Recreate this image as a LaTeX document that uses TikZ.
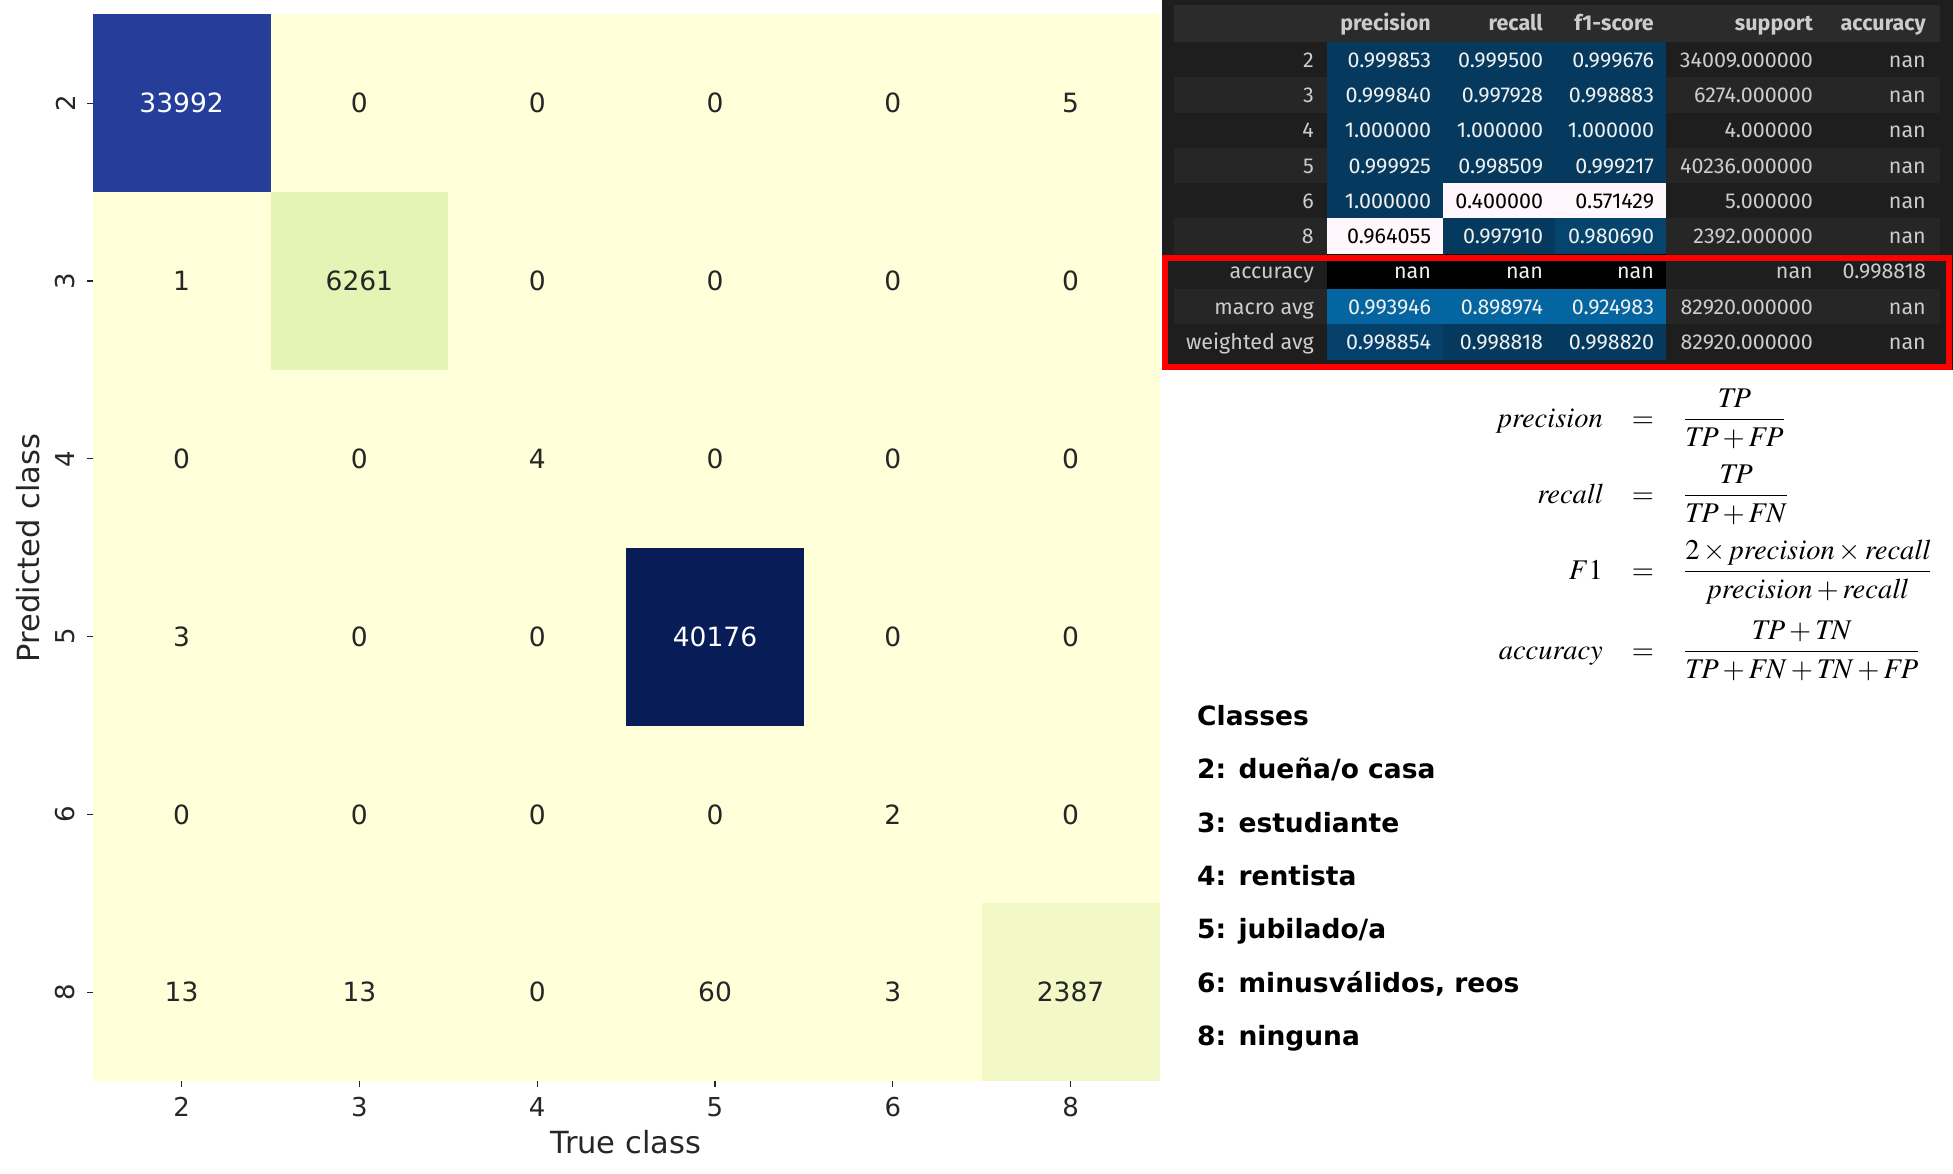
\documentclass[tikz,border=0pt]{standalone}
\usepackage{mathptmx}
\usepackage[no-math]{fontspec}
\setmainfont{DejaVu Sans}
\newfontfamily\tablefont{Fira Sans}
\definecolor{hmlow}{HTML}{FFFFD9}
\definecolor{hmmid}{HTML}{E4F4B4}
\definecolor{hmpale}{HTML}{F3F9C6}
\definecolor{hmblue}{HTML}{243E99}
\definecolor{hmnavy}{HTML}{081D58}
\definecolor{hmtext}{HTML}{262626}
\definecolor{tblbg}{HTML}{1E1E1E}
\definecolor{tblstripe}{HTML}{262626}
\definecolor{tblhead}{HTML}{2B2B2B}
\definecolor{tbltext}{HTML}{CCCCCC}
\definecolor{celltext}{HTML}{F0F0F0}
\definecolor{pubudark}{HTML}{053A5E}
\definecolor{pubumid}{HTML}{05446C}
\definecolor{pubuwavg}{HTML}{04406A}
\definecolor{pubulight}{HTML}{0565A0}
\definecolor{pubuwhite}{HTML}{FFF7FB}
\definecolor{boxred}{HTML}{FF0000}
\tikzset{
    annot/.style={
        font=\fontsize{26.5}{31}\selectfont, inner sep=0pt, anchor=center
    },
    ticklabel/.style={
        font=\fontsize{26}{31}\selectfont, text=hmtext, inner sep=0pt
    },
    tick/.style={
        draw=hmtext, line width=1.3pt
    },
    axislabel/.style={
        font=\fontsize{30.5}{36}\selectfont, text=hmtext, inner sep=0pt
    },
    tbltxt/.style={
        font=\tablefont\fontsize{21.5}{25}\selectfont, text=tbltext, anchor=base east, inner sep=0pt
    },
    tblhd/.style={
        font=\tablefont\bfseries\fontsize{21.5}{25}\selectfont, text=tbltext, anchor=base east, inner sep=0pt
    },
    gcell/.style={
        font=\tablefont\fontsize{21.5}{25}\selectfont, anchor=west, outer sep=0pt,
        minimum height=35.3pt, inner ysep=0pt, inner xsep=12pt,
        text width=#1, align=right, text height=15pt, text depth=0pt
    },
    cA/.style={fill=pubudark, text=celltext},
    cM/.style={fill=pubumid, text=celltext},
    cV/.style={fill=pubuwavg, text=celltext},
    cL/.style={fill=pubulight, text=celltext},
    cW/.style={fill=pubuwhite, text=black},
    cK/.style={fill=black, text=celltext},
    formula/.style={
        font=\fontsize{28.5}{34}\selectfont, inner sep=0pt
    },
    classtext/.style={
        font=\bfseries\fontsize{26.5}{31}\selectfont, anchor=base west, inner sep=0pt
    }
}

\begin{document}
\begin{tikzpicture}[x=1pt, y=-1pt]
    \useasboundingbox (0,0) rectangle (1953,1174);

    % ======================================
    % CONFUSION MATRIX
    % ======================================
    \fill[hmlow] (92.7,14.3) rectangle (1159.5,1081);
    \fill[hmblue] (92.7,14.3) rectangle ++(177.8,177.8);
    \fill[hmmid] (270.5,192.1) rectangle ++(177.8,177.8);
    \fill[hmnavy] (626.1,547.7) rectangle ++(177.8,177.8);
    \fill[hmpale] (981.7,903.3) rectangle ++(177.8,177.8);

    % values, dark cells get white text
    \foreach \vals [count=\r from 0] in {{33992,0,0,0,0,5},{1,6261,0,0,0,0},{0,0,4,0,0,0},
                                          {3,0,0,40176,0,0},{0,0,0,0,2,0},{13,13,0,60,3,2387}}
        \foreach \v [count=\c from 0] in \vals {
            \ifnum\v>30000 \def\tc{white}\else\def\tc{hmtext}\fi
            \node[annot, text=\tc] (m\r\c) at ({92.7+177.8*(\c+0.5)},{14.3+177.8*(\r+0.5)}) {\v};
        }

    % ticks of both axes
    \foreach \lab [count=\i from 0] in {2,3,4,5,6,8} {
        \draw[tick] (92.7,{14.3+177.8*(\i+0.5)}) -- ++(-6,0);
        \node[ticklabel, rotate=90] (yt\i) at (65.5,{14.3+177.8*(\i+0.5)}) {\lab};
        \draw[tick] ({92.7+177.8*(\i+0.5)},1081) -- ++(0,6);
        \node[ticklabel] (xt\i) at ({92.7+177.8*(\i+0.5)},1107) {\lab};
    }

    \node[axislabel, rotate=90] (ylab) at (28,548) {Predicted class};
    \node[axislabel] (xlab) at (626,1142) {True class};

    % ======================================
    % CLASSIFICATION REPORT
    % ======================================
    \fill[tblbg] (1162,0) rectangle (1953,370);
    \fill[tblhead] (1174,5) rectangle (1940,42);

    \node[tblhd] (hprec) at (1431,31) {precision};
    \node[tblhd] (hrec) at (1543,31) {recall};
    \node[tblhd] (hf1) at (1654,31) {f1-score};
    \node[tblhd] (hsup) at (1813,31) {support};
    \node[tblhd] (hacc) at (1926,31) {accuracy};

    \foreach \i/\lab/\ps/\pv/\rs/\rv/\fs/\fv/\sv/\av in {
        0/2/cA/0.999853/cA/0.999500/cA/0.999676/34009.000000/nan,
        1/3/cA/0.999840/cA/0.997928/cA/0.998883/6274.000000/nan,
        2/4/cA/1.000000/cA/1.000000/cA/1.000000/4.000000/nan,
        3/5/cA/0.999925/cA/0.998509/cA/0.999217/40236.000000/nan,
        4/6/cA/1.000000/cW/0.400000/cW/0.571429/5.000000/nan,
        5/8/cW/0.964055/cA/0.997910/cM/0.980690/2392.000000/nan,
        6/accuracy/cK/nan/cK/nan/cK/nan/nan/0.998818,
        7/macro avg/cL/0.993946/cL/0.898974/cL/0.924983/82920.000000/nan,
        8/weighted avg/cV/0.998854/cA/0.998818/cA/0.998820/82920.000000/nan} {
        \pgfmathsetmacro{\yc}{42+35.3*(\i+0.5)}
        \pgfmathsetmacro{\yb}{\yc+7.5}
        \ifodd\i \fill[tblstripe] (1174,{42+35.3*\i}) rectangle ++(766,35.3); \fi
        \node[tbltxt] (idx\i) at (1314,\yb) {\lab};
        \node[gcell=92pt, \ps] (prec\i) at (1327,\yc) {\pv};
        \node[gcell=88pt, \rs] (rec\i) at (1443,\yc) {\rv};
        \node[gcell=87pt, \fs] (fone\i) at (1555,\yc) {\fv};
        \node[tbltxt] (sup\i) at (1813,\yb) {\sv};
        \node[tbltxt] (acc\i) at (1926,\yb) {\av};
    }

    % caja roja sobre las filas de promedios
    \draw[boxred, line width=6pt] (1164.5,258.5) rectangle (1949,367);

    % ======================================
    % FORMULAS
    % ======================================
    \node[formula, anchor=base east] (fprec) at (1603,427) {$\mathit{precision}$};
    \node[formula, anchor=base] (eqprec) at (1643,427) {$=$};
    \node[formula, anchor=base west] (frprec) at (1684,427) {$\displaystyle\frac{\mathit{TP}}{\mathit{TP}+\mathit{FP}}$};

    \node[formula, anchor=base east] (frec) at (1603,503) {$\mathit{recall}$};
    \node[formula, anchor=base] (eqrec) at (1643,503) {$=$};
    \node[formula, anchor=base west] (frrec) at (1684,503) {$\displaystyle\frac{\mathit{TP}}{\mathit{TP}+\mathit{FN}}$};

    \node[formula, anchor=base east] (ffone) at (1603,579) {$F1$};
    \node[formula, anchor=base] (eqfone) at (1643,579) {$=$};
    \node[formula, anchor=base west] (frfone) at (1684,579) {$\displaystyle\frac{2\times\mathit{precision}\times\mathit{recall}}{\mathit{precision}+\mathit{recall}}$};

    \node[formula, anchor=base east] (facc) at (1603,659) {$\mathit{accuracy}$};
    \node[formula, anchor=base] (eqacc) at (1643,659) {$=$};
    \node[formula, anchor=base west] (fracc) at (1684,659) {$\displaystyle\frac{\mathit{TP}+\mathit{TN}}{\mathit{TP}+\mathit{FN}+\mathit{TN}+\mathit{FP}}$};

    % ======================================
    % CLASSES
    % ======================================
    \node[classtext] (classes) at (1197,725) {Classes};
    \node[classtext] (cls2) at (1197,778.5) {2: dueña/o casa};
    \node[classtext] (cls3) at (1197,832) {3: estudiante};
    \node[classtext] (cls4) at (1197,885) {4: rentista};
    \node[classtext] (cls5) at (1197,938.5) {5: jubilado/a};
    \node[classtext] (cls6) at (1197,992) {6: minusválidos, reos};
    \node[classtext] (cls8) at (1197,1045) {8: ninguna};

\end{tikzpicture}
\end{document}
